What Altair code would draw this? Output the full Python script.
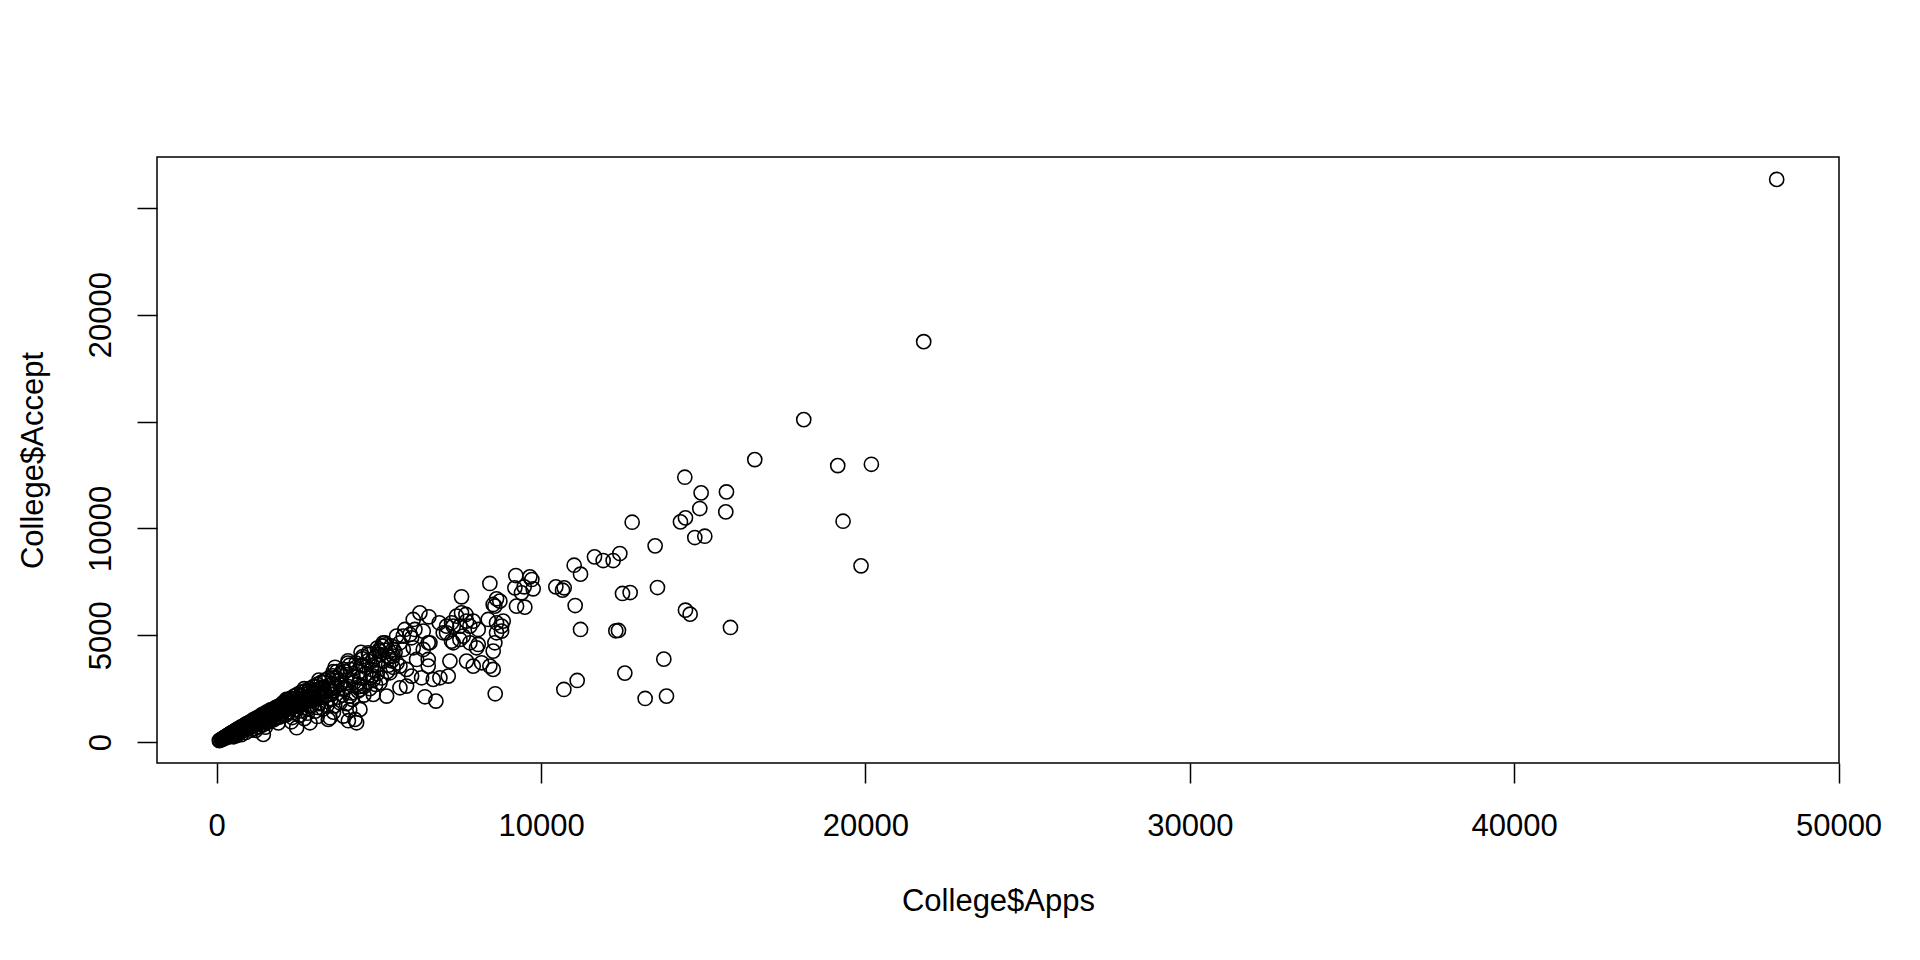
import altair as alt
import pandas as pd

# dense cluster of small colleges (Apps, Accept)
core_apps = [81, 100, 141, 152, 167, 174, 191, 202, 213, 232, 245, 257, 272, 280, 291, 299,
             314, 328, 341, 355, 362, 378, 390, 402, 415, 428, 440, 452, 467, 479, 488, 500,
             512, 523, 537, 548, 559, 571, 582, 596, 608, 619, 633, 645, 657, 669, 682, 694,
             705, 718, 730, 744, 758, 771, 785, 797, 810, 823, 836, 849, 862, 877, 891, 904,
             918, 932, 947, 961, 975, 990, 1004, 1020, 1035, 1050, 1066, 1081, 1097, 1113,
             1129, 1146, 1162, 1179, 1196, 1213, 1230, 1248, 1266, 1284, 1302, 1320, 1339,
             1358, 1377, 1396, 1416, 1436, 1456, 1476, 1497, 1518, 1539, 1560, 1582, 1604,
             1626, 1649, 1672, 1695, 1718, 1742, 1766, 1790, 1815, 1840, 1865, 1890, 1916,
             1942, 1968, 1995, 2022, 2049, 2077, 2105, 2134, 2163, 2192, 2222, 2252, 2283,
             2314, 2345, 2377, 2409, 2442, 2475, 2508, 2542, 2576, 2611, 2646, 2682, 2718,
             2755, 2792, 2830, 2868, 2906, 2945, 2984, 3024, 3064, 3105, 3146, 3188, 3230,
             3272, 3315, 3358, 3402, 3446, 3491, 3536, 3582, 3628,
             1437, 2465, 2876, 3440, 4314, 4060]
core_accept = [72, 90, 118, 128, 130, 146, 165, 184, 166, 216, 208, 183, 239, 256, 245, 281,
               292, 260, 298, 330, 310, 352, 301, 388, 362, 400, 345, 427, 424, 398, 455, 460,
               403, 480, 505, 432, 530, 498, 451, 560, 547, 503, 590, 612, 522, 608, 638, 582,
               480, 664, 642, 590, 715, 681, 621, 740, 719, 655, 548, 786, 752, 690, 830, 798,
               706, 862, 844, 761, 650, 915, 884, 809, 952, 902, 845, 729, 1010, 980,
               893, 1063, 1011, 925, 802, 1110, 1050, 968, 1152, 1100, 1021, 880, 1217,
               1160, 1059, 1289, 1210, 1115, 942, 1342, 1270, 1172, 1402, 1320, 1213, 1003,
               1460, 1380, 1270, 1525, 1440, 1312, 1104, 1590, 1502, 1375, 1650, 1560, 1422,
               1181, 1720, 1620, 1480, 1780, 1680, 1530, 1265, 1850, 1742, 1600, 1920, 1805,
               1650, 1380, 1995, 1870, 1710, 2070, 1942, 1775, 1460, 2150, 2010, 1830, 2230,
               2080, 1900, 1560, 2320, 2160, 1960, 2400, 2230, 2020, 1620, 2480, 2310, 2090,
               2570, 2390, 2160, 1720, 2650, 2460, 2230, 2740, 2540,
               360, 672, 905, 1061, 905, 1000]

# wider spread inside the cluster
spread_apps = [520, 610, 700, 760, 840, 900, 980, 1050, 1120, 1180, 1240, 1300, 1350, 1420,
               1480, 1530, 1600, 1650, 1700, 1760, 1820, 1880, 1930, 1990, 2050, 2100, 2160,
               2220, 2280, 2330, 2390, 2450, 2500, 2560, 2620, 2680, 2740, 2800, 2860, 2920,
               2980, 3040, 3100, 3160, 3220, 3280, 3340, 3400, 3460, 3520, 3580, 3640, 3700,
               3760, 3820, 3880, 3940, 4000, 4060, 4120, 4180, 4240, 4300, 4360, 4420, 4480,
               4540, 4600, 4660, 4720, 4780, 4840, 4900, 4960, 5020, 5080, 5140, 5200, 5260,
               5320, 5380, 5440, 5500, 5560, 1900, 2300, 2700, 3100, 1500, 1200, 3600, 4100,
               2600, 3000, 3300, 3700, 2000, 2400, 1700, 1400, 1100, 800, 3900, 4400, 4800,
               5300, 1650, 2150, 2700, 3150, 3600, 4050, 4500, 4950]
spread_accept = [250, 300, 420, 350, 600, 450, 700, 560, 880, 640, 1000, 720, 1100, 800,
                 1250, 900, 1350, 980, 1500, 1050, 1600, 1150, 1700, 1250, 1850, 1300, 1950,
                 1400, 2050, 1150, 2150, 1500, 2250, 1250, 2350, 1600, 2400, 1350, 2500, 1700,
                 2600, 1450, 2700, 1800, 2800, 1550, 2900, 1900, 3000, 2000, 3100, 1700, 2600,
                 2900, 3200, 2200, 3300, 1800, 2600, 3400, 2000, 2800, 3500, 2400, 3000, 3600,
                 2200, 3200, 3800, 2500, 3400, 3900, 2700, 3600, 4100, 3000, 3800, 4300, 3300,
                 4000, 4500, 3500, 4200, 3700, 900, 950, 1100, 1200, 700, 550, 1400, 1500,
                 1900, 2300, 2500, 3000, 1500, 1800, 1300, 1050, 850, 620, 2500, 2600, 3100,
                 3600, 1500, 2000, 2500, 2900, 3300, 3700, 4000, 4400]

# extra fill for the solid part near the origin
fill_apps = [350, 430, 560, 650, 740, 830, 920, 1010, 1090, 1170, 1260, 1340, 1430, 1510,
             1590, 1680, 1770, 1850, 1940, 2030, 2120, 2210, 2300, 2390, 2480, 2570, 2660,
             2750, 2840, 2930, 3020, 3110, 400, 620, 880, 1140, 1380, 1620, 1860, 2110,
             2350, 2590, 2830, 3070, 3310]
fill_accept = [230, 280, 350, 470, 500, 580, 680, 720, 800, 830, 920, 950, 1030, 1060,
               1160, 1180, 1280, 1300, 1400, 1420, 1520, 1540, 1640, 1660, 1760, 1780, 1880,
               1900, 2000, 2020, 2120, 2140, 330, 520, 740, 960, 1170, 1380, 1590, 1790,
               2000, 2200, 2400, 2600, 2800]

# middle band, 3500 - 10000 applications
mid_apps = [3600, 3700, 3800, 3900, 4000, 4100, 4200, 4300, 4400, 4500, 4600, 4700, 4800,
            4900, 5000, 3550, 3750, 3950, 4150, 4350, 4550, 4750, 4950, 3650, 4050, 4450,
            5100, 5200, 5300, 5400,
            9223, 9655, 9716, 9193, 9480, 9757, 9398, 9244, 9500, 8422, 7549, 8628, 8576,
            6265, 6542, 6861, 7395, 7683, 7703, 8371, 8628, 8782, 8833, 7087, 7292, 7498,
            7806, 8063, 6111, 6368, 6984, 7241, 7498, 7806, 8063, 8576, 8525, 6522, 5751,
            5957, 5649, 5135, 4673, 5032, 5443,
            8587, 6420, 6759, 8525, 8730, 7241, 7549, 7909, 8782, 8628, 7087, 7292, 7600,
            8012, 7703, 7909, 8166, 8422, 8525, 7190, 7139, 6882, 6676, 6574, 6368, 6522,
            6522, 6317, 6009, 5854, 5649, 5238, 4827, 4416, 4262, 3903, 3492, 6060, 5803,
            5546, 5187, 6009, 6060, 5752, 5443, 6163, 5649, 5854, 5341, 4827, 5033, 4416,
            4108, 3800]
mid_accept = [3000, 3300, 2700, 3400, 2900, 3600, 3100, 3700, 3300, 3900, 3500, 4100, 3600,
              4000, 4300, 2400, 2100, 2500, 2300, 2700, 2600, 3000, 3200, 3500, 3800, 4200,
              4500, 4550, 4000, 3800,
              7796, 7734, 7609, 7220, 7266, 7173, 6986, 6362, 6315, 7422, 6799, 6705, 6362,
              6050, 5863, 5583, 5895, 5972, 5661, 5739, 5583, 5427, 5661, 5427, 5427, 5427,
              5427, 5271, 5271, 5193, 5115, 4725, 4803, 4647, 4570, 4647, 4258, 4647, 4959,
              5037, 4647, 4647, 4180, 4258, 4336,
              2262, 2122, 1919, 6440, 6596, 5583, 6050, 5661, 5193, 5115, 5115, 4647, 4959,
              4414, 3790, 3556, 3712, 3556, 3401, 3790, 3089, 3011, 2933, 4647, 4336, 3868,
              3556, 3011, 3089, 2621, 2543, 2153, 2231, 1530, 1062, 1218, 1140, 5739, 5271,
              4959, 4647, 4881, 4414, 4336, 4024, 3868, 3556, 3401, 3245, 2933, 2777, 2465,
              2153, 1841]

# large universities
far_apps = [48094, 21797, 18099, 16589, 19147, 20184, 19311, 19865, 14432, 14935, 15716,
            14894, 15695, 14298, 14452, 14740, 15048, 12809, 13517, 12429, 12223, 11915,
            11648, 11021, 11217, 13589, 12511, 12747, 10456, 10662, 10713, 11052, 14452,
            14596, 15839, 11217, 12305, 12387, 13785, 12583, 11114, 10703, 13209, 13867]
far_accept = [26330, 18739, 15091, 13220, 12940, 13002, 10336, 8248, 12394, 11662, 11708,
              10929, 10773, 10305, 10492, 9572, 9635, 10290, 9183, 8824, 8497, 8497,
              8668, 8278, 7858, 7234, 6954, 7000, 7265, 7110, 7219, 6392, 6174,
              5987, 5363, 5270, 5208, 5223, 3882, 3228, 2885, 2464, 2043, 2152]

x_ticks = [0, 10000, 20000, 30000, 40000, 50000]
y_ticks = [0, 5000, 10000, 15000, 20000, 25000]

df = pd.DataFrame({
    'Apps': core_apps + spread_apps + fill_apps + mid_apps + far_apps,
    'Accept': core_accept + spread_accept + fill_accept + mid_accept + far_accept,
})

font = 'Liberation Sans'

chart = alt.Chart(df).mark_point(
    shape='circle', filled=False, color='black', size=200, strokeWidth=1.6, opacity=1
).encode(
    x=alt.X('Apps:Q',
            scale=alt.Scale(domain=[-1840, 50015], nice=False, zero=False),
            axis=alt.Axis(values=x_ticks, format='d', title='College$Apps',
                          labelBaseline='alphabetic', labelPadding=52, labelFlush=False,
                          titleBaseline='alphabetic', titleY=147)),
    y=alt.Y('Accept:Q',
            scale=alt.Scale(domain=[-978, 27380], nice=False, zero=False),
            axis=alt.Axis(values=y_ticks, format='d', title='College$Accept',
                          labelExpr="datum.value == 15000 || datum.value == 25000 ? '' : datum.label",
                          labelAngle=270, labelAlign='center', labelBaseline='alphabetic',
                          labelPadding=27, labelFlush=False,
                          titleAngle=270, titleBaseline='alphabetic', titleAlign='center',
                          titleX=-115, titleY=303)),
).properties(
    width=1682,
    height=606,
    autosize=alt.AutoSizeParams(type='none'),
    padding={'left': 149, 'top': 149, 'right': 60, 'bottom': 180},
).configure_view(
    stroke='black', strokeWidth=1.5
).configure_axis(
    domain=False, grid=False, ticks=True, tickSize=20, tickWidth=1.5, tickColor='black',
    labelFont=font, labelFontSize=31, labelColor='black',
    titleFont=font, titleFontSize=31, titleFontWeight='normal', titleColor='black',
)

chart.save('out.html', embed_options={'renderer': 'svg', 'actions': False})
